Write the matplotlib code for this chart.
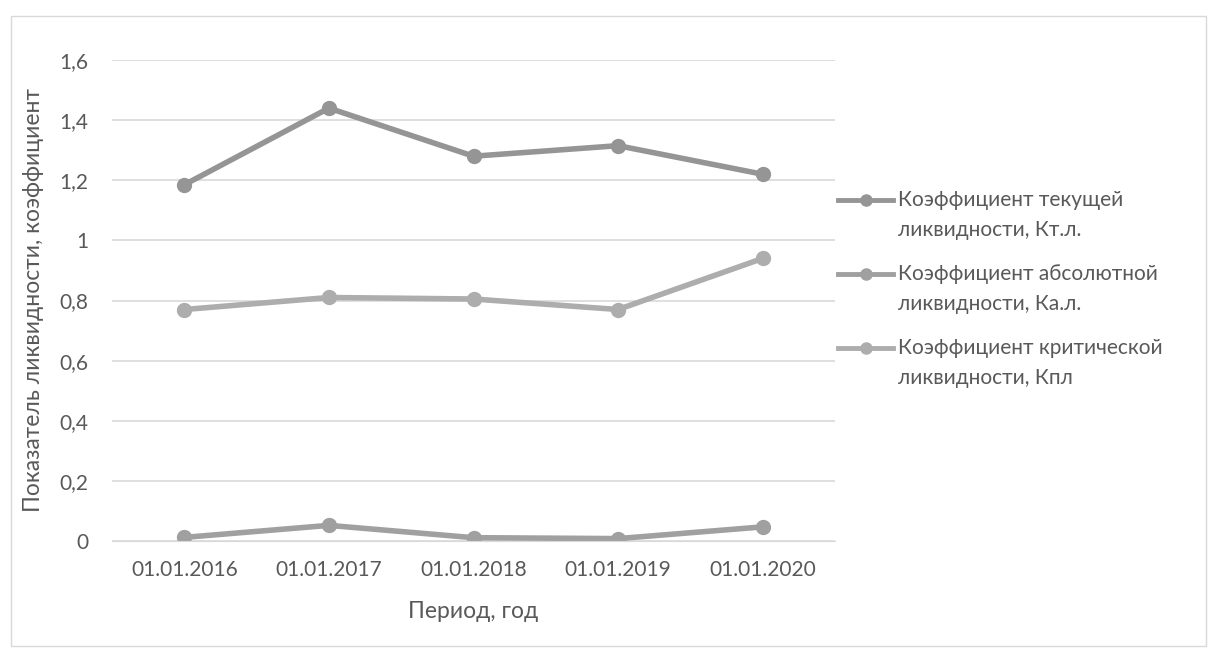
import matplotlib.pyplot as plt
from matplotlib.lines import Line2D
from matplotlib.patches import Rectangle

plt.rcParams['font.family'] = ['Lato', 'DejaVu Sans']

periods = ["01.01.2016", "01.01.2017", "01.01.2018", "01.01.2019", "01.01.2020"]
current_ratio = [1.185, 1.44, 1.28, 1.315, 1.22]
absolute_ratio = [0.012, 0.052, 0.011, 0.008, 0.047]
quick_ratio = [0.77, 0.81, 0.805, 0.77, 0.94]

labels = [
    ["Коэффициент текущей", "ликвидности, Кт.л."],
    ["Коэффициент абсолютной", "ликвидности, Ка.л."],
    ["Коэффициент критической", "ликвидности, Кпл"],
]
colors = ["#959595", "#a0a0a0", "#adadad"]
text_color = "#595959"
W, H = 1217, 648

fig = plt.figure(figsize=(W / 100, H / 100), dpi=100)
fig.patches.append(Rectangle((11 / W, 0.003), 1195 / W, 1 - 16 / H - 0.003,
                             transform=fig.transFigure, fill=False,
                             edgecolor="#d9d9d9", linewidth=1))

ax = fig.add_axes([112 / W, 1 - 541 / H, 723 / W, 481 / H])
x = range(len(periods))
series = [current_ratio, absolute_ratio, quick_ratio]
for vals, col in zip(series, colors):
    ax.plot(x, vals, color=col, linewidth=4, marker="o", markersize=10,
            solid_capstyle="round", solid_joinstyle="round")

ax.set_xlim(-0.5, len(periods) - 0.5)
ax.set_ylim(0, 1.6)
ax.set_yticks([0, 0.2, 0.4, 0.6, 0.8, 1.0, 1.2, 1.4, 1.6])
ax.set_yticklabels(["0", "0,2", "0,4", "0,6", "0,8", "1", "1,2", "1,4", "1,6"])
ax.set_xticks(list(x))
ax.set_xticklabels(periods)
ax.grid(axis="y", color="#d9d9d9", linewidth=1.2)
ax.set_axisbelow(True)
for side in ["top", "right", "left"]:
    ax.spines[side].set_visible(False)
ax.spines["bottom"].set_color("#d9d9d9")
ax.tick_params(length=0, labelsize=15, colors=text_color)
ax.tick_params(axis="x", pad=14)
ax.tick_params(axis="y", pad=17)

fig.text(473 / W, 1 - 612 / H, "Период, год", ha="center", va="center",
         fontsize=16.5, color=text_color)
fig.text(34 / W, 1 - 300 / H, "Показатель ликвидности, коэффициент",
         rotation=90, ha="center", va="center", fontsize=16.5, color=text_color)

# legend drawn by hand: marker line level with the first text line
for i, (lines, col) in enumerate(zip(labels, colors)):
    y0 = 200 + 74 * i
    fig.add_artist(Line2D([838 / W, 893 / W], [1 - y0 / H, 1 - y0 / H],
                          transform=fig.transFigure, color=col, linewidth=3.5,
                          marker="o", markevery=[0], markersize=0))
    fig.add_artist(Line2D([865.5 / W], [1 - y0 / H], transform=fig.transFigure,
                          color=col, marker="o", markersize=8, linestyle="none"))
    for j, line in enumerate(lines):
        fig.text(898 / W, 1 - (y0 + 30 * j) / H, line, ha="left", va="center",
                 fontsize=15, color=text_color)

fig.savefig("out.png", dpi=100)
